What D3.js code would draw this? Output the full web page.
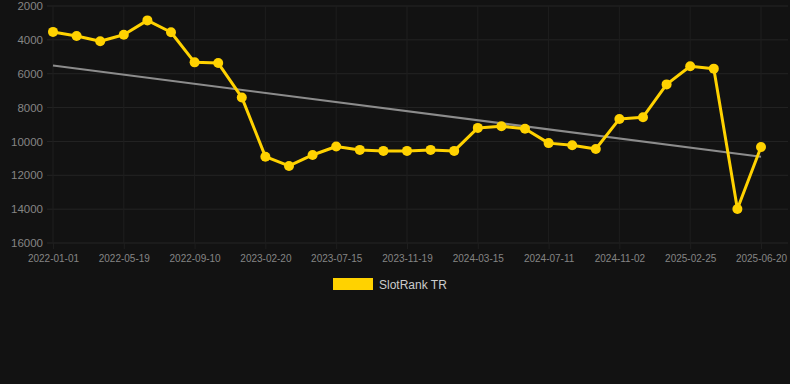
<!DOCTYPE html>
<html>
<head>
<meta charset="utf-8">
<script src="https://cdn.jsdelivr.net/npm/d3@7"></script>
<style>
  html, body { margin: 0; padding: 0; background: #121212; }
  svg { display: block; font-family: "Liberation Sans", Arial, sans-serif; }
</style>
</head>
<body>
<div id="chart"></div>
<script>
// x positions: one per snapshot, only every third one gets a label
let dates = [
  "2022-01-01", "2022-02-14", "2022-03-31", "2022-05-19", "2022-06-25", "2022-08-03",
  "2022-09-10", "2022-10-24", "2022-12-08", "2023-02-20", "2023-03-28", "2023-05-22",
  "2023-07-15", "2023-08-27", "2023-10-05", "2023-11-19", "2023-12-30", "2024-02-04",
  "2024-03-15", "2024-04-22", "2024-06-01", "2024-07-11", "2024-08-19", "2024-09-24",
  "2024-11-02", "2024-12-10", "2025-01-19", "2025-02-25", "2025-04-02", "2025-05-12",
  "2025-06-20"
];
let ranks = [
  3530, 3770, 4080, 3700, 2850, 3550, 5330, 5370, 7400, 10900, 11450, 10800,
  10300, 10500, 10560, 10560, 10500, 10560, 9200, 9100, 9250, 10100, 10230, 10450,
  8670, 8570, 6630, 5560, 5700, 13990, 10330
];
let trendEnds = [5520, 10900];
let yTicks = [2000, 4000, 6000, 8000, 10000, 12000, 14000, 16000];
let seriesName = "SlotRank TR";

let W = 790, H = 384;
let gridLeft = 47, gridRight = 788, gridTop = 6, gridBottom = 243;

let svg = d3.select("#chart").append("svg")
  .attr("width", W)
  .attr("height", H);

svg.append("rect").attr("width", W).attr("height", H).attr("fill", "#121212");

let x = d3.scalePoint()
  .domain(dates)
  .range([53, 761]);
let y = d3.scaleLinear()
  .domain([2000, 16000])
  .range([gridTop, gridBottom]);

let labelDates = dates.filter((d, i) => i % 3 === 0);

// grid
let grid = svg.append("g").attr("class", "grid");
grid.selectAll(".hgrid")
  .data(yTicks)
  .join("line")
  .attr("class", "hgrid")
  .attr("x1", gridLeft).attr("x2", gridRight)
  .attr("y1", d => y(d)).attr("y2", d => y(d))
  .attr("stroke", "#242424")
  .attr("stroke-width", 1);
grid.selectAll(".vgrid")
  .data(labelDates)
  .join("line")
  .attr("class", "vgrid")
  .attr("x1", d => x(d)).attr("x2", d => x(d))
  .attr("y1", gridTop).attr("y2", gridBottom)
  .attr("stroke", "#1e1e1e")
  .attr("stroke-width", 1);

// axes
let yAxis = d3.axisLeft(y).tickValues(yTicks).tickFormat(d3.format("d")).tickSize(0).tickPadding(4);
svg.append("g")
  .attr("transform", `translate(${gridLeft}, 0)`)
  .call(yAxis)
  .call(g => g.select(".domain").remove())
  .selectAll("text")
  .attr("fill", "#858585")
  .style("font-size", "11.5px");

let xAxis = d3.axisBottom(x).tickValues(labelDates).tickSize(6).tickPadding(6);
svg.append("g")
  .attr("transform", `translate(0, ${gridBottom})`)
  .call(xAxis)
  .call(g => g.select(".domain").remove())
  .call(g => g.selectAll("line").attr("stroke", "#1e1e1e"))
  .selectAll("text")
  .attr("fill", "#858585")
  .style("font-size", "10px");

// trend line
svg.append("line")
  .attr("x1", x(dates[0])).attr("y1", y(trendEnds[0]))
  .attr("x2", x(dates[dates.length - 1])).attr("y2", y(trendEnds[1]))
  .attr("stroke", "#8c8c8c")
  .attr("stroke-width", 2);

// series
let line = d3.line()
  .x((d, i) => x(dates[i]))
  .y(d => y(d));

svg.append("path")
  .datum(ranks)
  .attr("d", line)
  .attr("fill", "none")
  .attr("stroke", "#FFD200")
  .attr("stroke-width", 3)
  .attr("stroke-linejoin", "round");

svg.selectAll(".dot")
  .data(ranks)
  .join("circle")
  .attr("class", "dot")
  .attr("cx", (d, i) => x(dates[i]))
  .attr("cy", d => y(d))
  .attr("r", 5)
  .attr("fill", "#FFD200");

// legend
let legend = svg.append("g").attr("transform", "translate(333, 278)");
legend.append("rect")
  .attr("width", 40).attr("height", 12)
  .attr("fill", "#FFD200");
legend.append("text")
  .attr("x", 46).attr("y", 11)
  .attr("fill", "#cccccc")
  .style("font-size", "12px")
  .text(seriesName);
</script>
</body>
</html>
